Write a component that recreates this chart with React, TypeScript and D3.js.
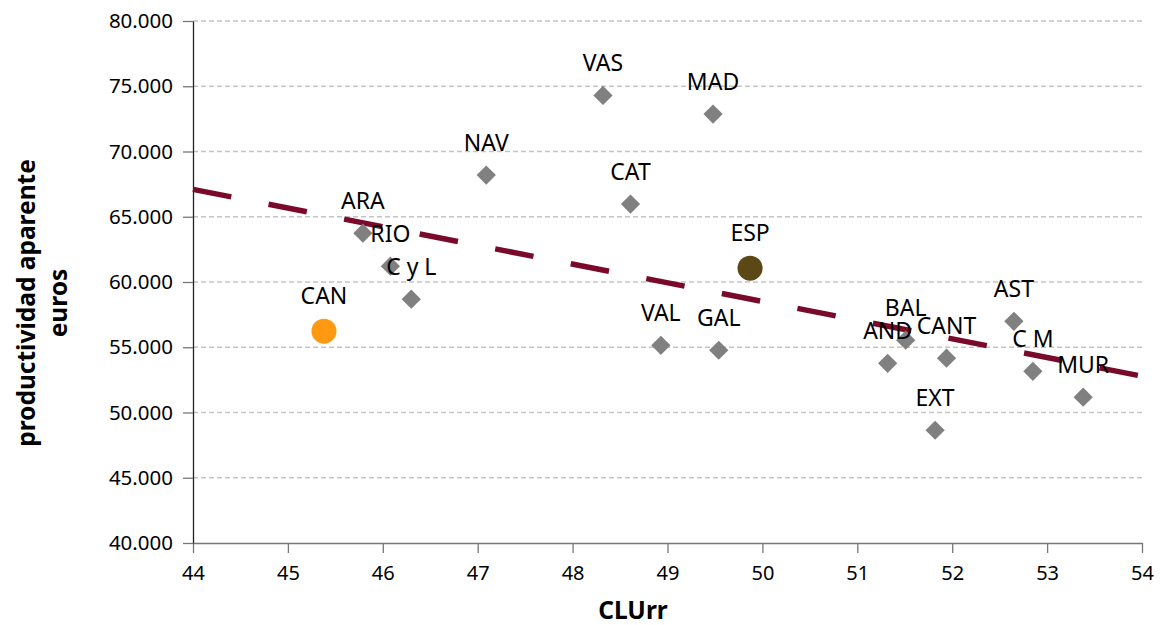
import * as d3 from 'd3';
import * as React from 'react';

const { useRef, useEffect } = React;

const width = 1160;
const height = 625;
const margin = { top: 21, right: 18, bottom: 82, left: 193 };

// comunidades autónomas (diamantes grises)
const regions = ['VAS', 'MAD', 'NAV', 'CAT', 'ARA', 'RIO', 'C y L', 'VAL', 'GAL', 'AND', 'BAL', 'CANT', 'EXT', 'AST', 'C M', 'MUR'];
const cluValues = [48.32, 49.48, 47.09, 48.61, 45.79, 46.08, 46.3, 48.93, 49.54, 51.32, 51.51, 51.94, 51.82, 52.65, 52.85, 53.38];
const prodValues = [74300, 72870, 68190, 65970, 63740, 61210, 58680, 55150, 54770, 53770, 55540, 54160, 48640, 56990, 53160, 51170];

// puntos destacados
const highlightNames = ['CAN', 'ESP'];
const highlightClu = [45.38, 49.87];
const highlightProd = [56230, 61060];
const highlightColors = ['#FF9912', '#5C4814'];

// línea de tendencia (extremos)
const trendClu = [44, 54];
const trendProd = [67100, 52780];

const xTicks = [44, 45, 46, 47, 48, 49, 50, 51, 52, 53, 54];
const yTicks = [40000, 45000, 50000, 55000, 60000, 65000, 70000, 75000, 80000];

const font = '"Noto Sans", sans-serif';

export default () => {
  const rootRef = useRef<SVGSVGElement>(null);

  useEffect(() => {
    const svg = d3.select(rootRef.current);
    svg.selectAll('*').remove();

    const x = d3
      .scaleLinear()
      .domain([44, 54])
      .range([margin.left, width - margin.right]);
    const y = d3
      .scaleLinear()
      .domain([40000, 80000])
      .range([height - margin.bottom, margin.top]);

    const fmt = (v: number) => d3.format(',')(v).replace(/,/g, '.');

    // cuadrícula horizontal
    svg
      .append('g')
      .selectAll('line')
      .data(yTicks.filter(t => t > 40000))
      .join('line')
      .attr('x1', x(44))
      .attr('x2', x(54))
      .attr('y1', d => y(d))
      .attr('y2', d => y(d))
      .attr('stroke', '#c4c4c4')
      .attr('stroke-width', 1.3)
      .attr('stroke-dasharray', '5,3');

    // eje x
    const xAxis = svg
      .append('g')
      .attr('transform', `translate(0,${y(40000)})`)
      .call(d3.axisBottom(x).tickValues(xTicks).tickSize(10).tickSizeOuter(0).tickPadding(13).tickFormat(d3.format('d')));
    xAxis.select('.domain').attr('stroke', '#777').attr('stroke-width', 1.3);
    xAxis.selectAll('.tick line').attr('stroke', '#777').attr('stroke-width', 1.3);
    xAxis.selectAll('.tick text').attr('font-family', font).attr('font-size', 20).attr('fill', '#000');

    // eje y
    const yAxis = svg
      .append('g')
      .attr('transform', `translate(${x(44)},0)`)
      .call(d3.axisLeft(y).tickValues(yTicks).tickSize(10).tickSizeOuter(0).tickPadding(10).tickFormat(d => fmt(d as number)));
    yAxis.select('.domain').attr('stroke', '#222').attr('stroke-width', 1.3);
    yAxis.selectAll('.tick line').attr('stroke', '#777').attr('stroke-width', 1.3);
    yAxis.selectAll('.tick text').attr('font-family', font).attr('font-size', 20.5).attr('fill', '#000');

    // tendencia
    const trend = trendClu.map((c, i) => [c, trendProd[i]] as [number, number]);
    svg
      .append('path')
      .attr('d', d3.line<[number, number]>().x(d => x(d[0])).y(d => y(d[1]))(trend))
      .attr('fill', 'none')
      .attr('stroke', '#7A0A2A')
      .attr('stroke-width', 5.5)
      .attr('stroke-dasharray', '39,38');

    // diamantes
    const pts = regions.map((r, i) => ({ name: r, clu: cluValues[i], prod: prodValues[i] }));
    const diamond = d3.symbol().type(d3.symbolSquare).size(185);
    svg
      .append('g')
      .selectAll('path')
      .data(pts)
      .join('path')
      .attr('d', diamond)
      .attr('transform', d => `translate(${x(d.clu)},${y(d.prod)}) rotate(45)`)
      .attr('fill', '#808080');

    const hl = highlightNames.map((n, i) => ({ name: n, clu: highlightClu[i], prod: highlightProd[i], color: highlightColors[i] }));
    svg
      .append('g')
      .selectAll('circle')
      .data(hl)
      .join('circle')
      .attr('cx', d => x(d.clu))
      .attr('cy', d => y(d.prod))
      .attr('r', 12.5)
      .attr('fill', d => d.color);

    // etiquetas
    const labels = svg.append('g').attr('font-family', font).attr('font-size', 23).attr('text-anchor', 'middle');
    labels
      .selectAll('text.p')
      .data(pts)
      .join('text')
      .attr('x', d => x(d.clu))
      .attr('y', d => y(d.prod) - 24)
      .text(d => d.name);
    labels
      .selectAll('text.h')
      .data(hl)
      .join('text')
      .attr('x', d => x(d.clu))
      .attr('y', d => y(d.prod) - 27)
      .text(d => d.name);

    // títulos de ejes
    svg
      .append('text')
      .attr('x', 633)
      .attr('y', 619)
      .attr('text-anchor', 'middle')
      .attr('font-family', font)
      .attr('font-weight', 'bold')
      .attr('font-size', 24.5)
      .text('CLUrr');

    const yt = svg
      .append('text')
      .attr('transform', 'translate(0,303) rotate(-90)')
      .attr('text-anchor', 'middle')
      .attr('font-family', font)
      .attr('font-weight', 'bold')
      .attr('font-size', 24.5);
    yt.append('tspan').attr('x', 0).attr('y', 35).text('productividad aparente');
    yt.append('tspan').attr('x', 0).attr('y', 67).text('euros');
  }, []);

  return (
    <svg
      ref={rootRef}
      width={width}
      height={height}
      style={{ position: 'absolute', left: 0, top: 0, background: '#fff' }}
    />
  );
};
